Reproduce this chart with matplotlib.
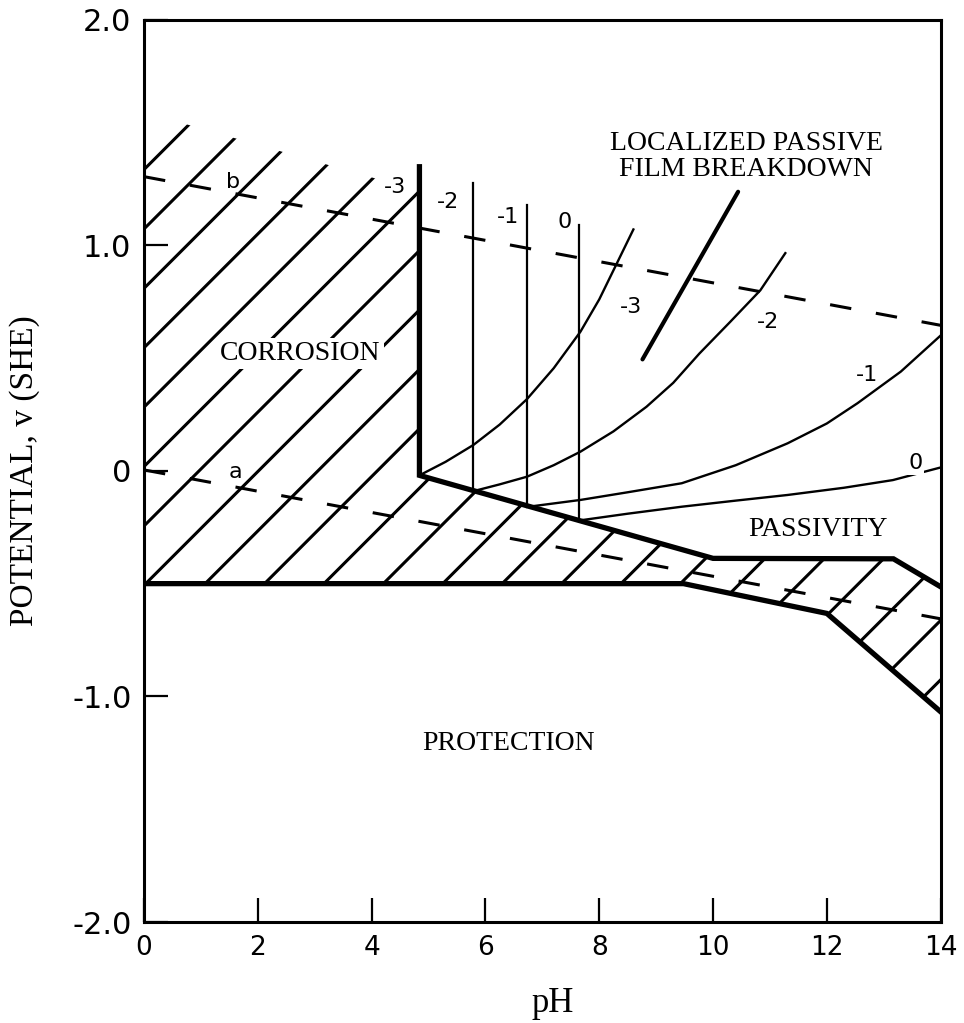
import matplotlib

matplotlib.use("Agg")
import matplotlib.pyplot as plt
import numpy as np
from matplotlib.patches import Polygon

plt.rcParams["lines.scale_dashes"] = False

SERIF = "Liberation Serif"
SANS = "DejaVu Sans"

# axis ticks
X_TICKS = [0, 2, 4, 6, 8, 10, 12, 14]
Y_TICKS = [-2.0, -1.0, 0.0, 1.0, 2.0]
Y_TICK_LABELS = ["-2.0", "-1.0", "0", "1.0", "2.0"]

# water stability lines (a: hydrogen, b: oxygen)
LINE_A_PH = [0.0, 14.0]
LINE_A_E = [0.004, -0.656]
LINE_B_PH = [0.0, 14.0]
LINE_B_E = [1.304, 0.645]

# lower boundary: protection / corrosion-passivity
LOWER_PH = [0.0, 9.48, 12.0, 14.0]
LOWER_E = [-0.50, -0.50, -0.632, -1.068]

# upper boundary: corrosion / passivity (vertical at pH 4.84, then sloping)
UPPER_PH = [4.84, 4.84, 10.0, 13.17, 14.0]
UPPER_E = [1.348, -0.02, -0.388, -0.39, -0.514]

# outline of the hatched (active) area
HATCH_PH = [0.0, 9.48, 12.0, 14.0, 14.0, 13.17, 10.0, 4.84, 4.84, 0.0]
HATCH_E = [-0.50, -0.50, -0.632, -1.068, -0.514, -0.39, -0.388, -0.02, 1.24, 1.59]

# iso-concentration verticals (log activity -2, -1, 0)
VERT_PH = [5.79, 6.73, 7.65]
VERT_BOTTOM = [-0.088, -0.155, -0.22]
VERT_TOP = [1.274, 1.178, 1.09]
VERT_LABELS = ["-3", "-2", "-1", "0"]
VERT_LABEL_PH = [4.41, 5.35, 6.40, 7.40]
VERT_LABEL_E = [1.26, 1.19, 1.126, 1.104]

# passive-film solubility curves
CURVE_M3_PH = [4.84, 5.3, 5.79, 6.25, 6.73, 7.2, 7.67, 8.0, 8.31, 8.60]
CURVE_M3_E = [-0.02, 0.04, 0.115, 0.205, 0.318, 0.455, 0.617, 0.76, 0.92, 1.07]
CURVE_M2_PH = [5.79, 6.25, 6.73, 7.2, 7.67, 8.25, 8.83, 9.3, 9.76, 10.3, 10.83, 11.27]
CURVE_M2_E = [-0.09, -0.06, -0.026, 0.025, 0.085, 0.175, 0.284, 0.39, 0.52, 0.66, 0.80, 0.965]
CURVE_M1_PH = [6.73, 7.67, 8.5, 9.45, 10.4, 11.31, 12.0, 12.54, 13.3, 14.0]
CURVE_M1_E = [-0.16, -0.129, -0.095, -0.055, 0.025, 0.122, 0.21, 0.30, 0.44, 0.60]
CURVE_0_PH = [7.65, 8.5, 9.45, 10.4, 11.31, 12.3, 13.16, 14.0]
CURVE_0_E = [-0.22, -0.19, -0.159, -0.132, -0.107, -0.075, -0.041, 0.015]
CURVE_LABELS = ["-3", "-2", "-1", "0"]
CURVE_LABEL_PH = [8.55, 10.97, 12.7, 13.56]
CURVE_LABEL_E = [0.727, 0.661, 0.425, 0.033]

# pitting (localized breakdown) line
PIT_PH = [8.76, 10.44]
PIT_E = [0.494, 1.237]

# hatch spacing along pH, and slope in data units (45 deg on screen)
HATCH_STEP = 1.044
HATCH_SLOPE = 0.2522

fig = plt.figure(figsize=(9.64, 10.23), dpi=100)
ax = fig.add_axes([0.1494, 0.0987, 0.8264, 0.8821])
ax.set_xlim(0, 14)
ax.set_ylim(-2, 2)

for side in ax.spines.values():
    side.set_linewidth(2.2)

ax.set_xticks(X_TICKS)
ax.set_xticklabels([str(t) for t in X_TICKS], fontsize=19, family=SANS)
ax.set_yticks(Y_TICKS)
ax.set_yticklabels(Y_TICK_LABELS, fontsize=22, family=SANS)
ax.tick_params(axis="x", direction="in", length=17, width=1.6, pad=9)
ax.tick_params(axis="y", direction="in", length=17, width=1.6, pad=9)

ax.set_xlabel("pH", fontsize=25, family=SERIF)
ax.xaxis.set_label_coords(0.513, -0.072)
ax.set_ylabel("POTENTIAL, v (SHE)", fontsize=24, family=SERIF)
ax.yaxis.set_label_coords(-0.131, 0.5)

# hatched corrosion area: diagonal strokes clipped to the outline
region = Polygon(np.column_stack([HATCH_PH, HATCH_E]), closed=True,
                 facecolor="none", edgecolor="none")
ax.add_patch(region)
xs = np.array([-20.0, 20.0])
for k in range(-10, 16):
    x0 = 0.03 + k * HATCH_STEP
    (hl,) = ax.plot(xs + x0, LOWER_E[0] + HATCH_SLOPE * xs, color="black",
                    lw=2.2, solid_capstyle="butt", zorder=2)
    hl.set_clip_path(region)

# water lines
for ph, e in [(LINE_A_PH, LINE_A_E), (LINE_B_PH, LINE_B_E)]:
    ax.plot(ph, e, color="black", lw=2.2, dashes=(15.5, 18), zorder=3)
ax.text(1.60, -0.005, "a", fontsize=16, family=SANS, ha="center", va="center")
ax.text(1.57, 1.28, "b", fontsize=16, family=SANS, ha="center", va="center")

# thick region boundaries
ax.plot(LOWER_PH, LOWER_E, color="black", lw=3.8, solid_joinstyle="miter", zorder=4)
ax.plot(UPPER_PH, UPPER_E, color="black", lw=3.8, solid_joinstyle="miter", zorder=4)

# thin verticals and solubility curves
for ph, lo, hi in zip(VERT_PH, VERT_BOTTOM, VERT_TOP):
    ax.plot([ph, ph], [lo, hi], color="black", lw=1.6, zorder=3)
for ph, e in [(CURVE_M3_PH, CURVE_M3_E), (CURVE_M2_PH, CURVE_M2_E),
              (CURVE_M1_PH, CURVE_M1_E), (CURVE_0_PH, CURVE_0_E)]:
    ax.plot(ph, e, color="black", lw=1.7, zorder=3)

for lbl, ph, e in zip(VERT_LABELS, VERT_LABEL_PH, VERT_LABEL_E):
    ax.text(ph, e, lbl, fontsize=16, family=SANS, ha="center", va="center")
for lbl, ph, e in zip(CURVE_LABELS, CURVE_LABEL_PH, CURVE_LABEL_E):
    ax.text(ph, e, lbl, fontsize=16, family=SANS, ha="center", va="center",
            bbox=dict(boxstyle="square,pad=0.05", fc="white", ec="none"), zorder=5)

ax.plot(PIT_PH, PIT_E, color="black", lw=3.0, solid_capstyle="round", zorder=3)

# region names
ax.text(2.74, 0.52, "CORROSION", fontsize=20, family=SERIF, ha="center", va="center",
        bbox=dict(boxstyle="square,pad=0.12", fc="white", ec="none"), zorder=5)
ax.text(11.84, -0.26, "PASSIVITY", fontsize=20, family=SERIF, ha="center", va="center")
ax.text(6.40, -1.21, "PROTECTION", fontsize=20, family=SERIF, ha="center", va="center")
ax.text(10.58, 1.395, "LOCALIZED PASSIVE\nFILM BREAKDOWN", fontsize=20, family=SERIF,
        ha="center", va="center", linespacing=1.05)

fig.savefig("out.png", dpi=100)
